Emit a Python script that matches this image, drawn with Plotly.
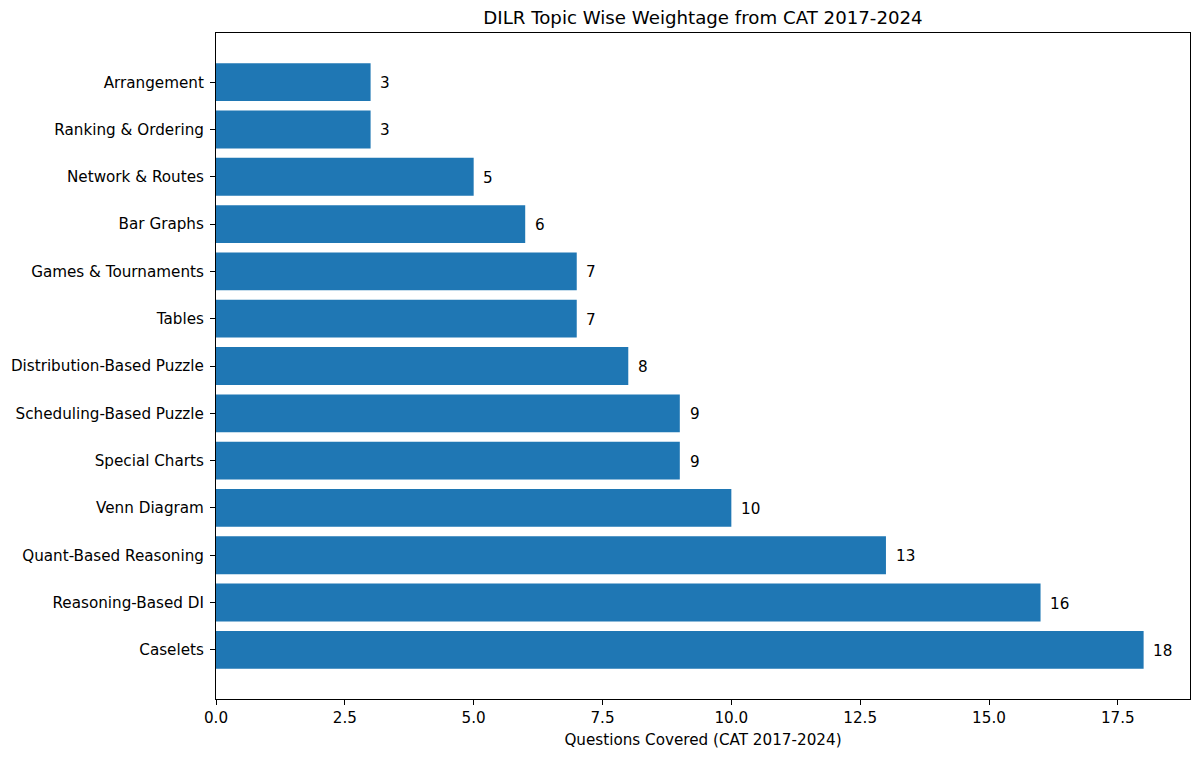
import plotly.graph_objects as go

topics = ["Caselets", "Reasoning-Based DI", "Quant-Based Reasoning", "Venn Diagram",
          "Special Charts", "Scheduling-Based Puzzle", "Distribution-Based Puzzle",
          "Tables", "Games & Tournaments", "Bar Graphs", "Network & Routes",
          "Ranking & Ordering", "Arrangement"]
counts = [18, 16, 13, 10, 9, 9, 8, 7, 7, 6, 5, 3, 3]
xticks = [0.0, 2.5, 5.0, 7.5, 10.0, 12.5, 15.0, 17.5]

FONT = "DejaVu Sans"
FS = 15.2
fig = go.Figure(go.Bar(
    x=counts, y=topics, orientation="h",
    marker=dict(color="#1f77b4", line=dict(width=0)),
    hoverinfo="skip",
))

for t, v in zip(topics, counts):
    fig.add_annotation(x=v + 0.15, y=t, text=str(v), showarrow=False,
                       xanchor="left", yanchor="middle", yshift=-1,
                       font=dict(family=FONT, size=FS, color="black"))

fig.update_layout(
    width=1200, height=759,
    margin=dict(l=216, r=10, t=33, b=60),
    paper_bgcolor="white", plot_bgcolor="white",
    bargap=0.2,
    showlegend=False,
    font=dict(family=FONT, size=FS, color="black"),
    title=dict(text="DILR Topic Wise Weightage from CAT 2017-2024",
               x=0.5, xref="paper", xanchor="center",
               y=1 - 18 / 759, yref="container", yanchor="middle",
               font=dict(family=FONT, size=18.2, color="black")),
)
fig.update_xaxes(
    range=[0, 18.9], tickvals=xticks, ticktext=[f"{v:.1f}" for v in xticks],
    showgrid=False, zeroline=False,
    showline=True, linecolor="black", linewidth=1.1, mirror=True,
    ticks="outside", ticklen=5, tickwidth=1.1, tickcolor="black",
    title=dict(text="Questions Covered (CAT 2017-2024)", standoff=8,
               font=dict(family=FONT, size=FS, color="black")),
    tickfont=dict(family=FONT, size=FS, color="black"),
)
fig.update_yaxes(
    type="category", categoryorder="array", categoryarray=topics,
    range=[-1.04, 13.04],
    showgrid=False, zeroline=False,
    showline=True, linecolor="black", linewidth=1.1, mirror=True,
    ticks="outside", ticklen=5, tickwidth=1.1, tickcolor="black",
    ticklabelstandoff=3,
    tickfont=dict(family=FONT, size=FS, color="black"),
)

fig.write_html("out.html")
